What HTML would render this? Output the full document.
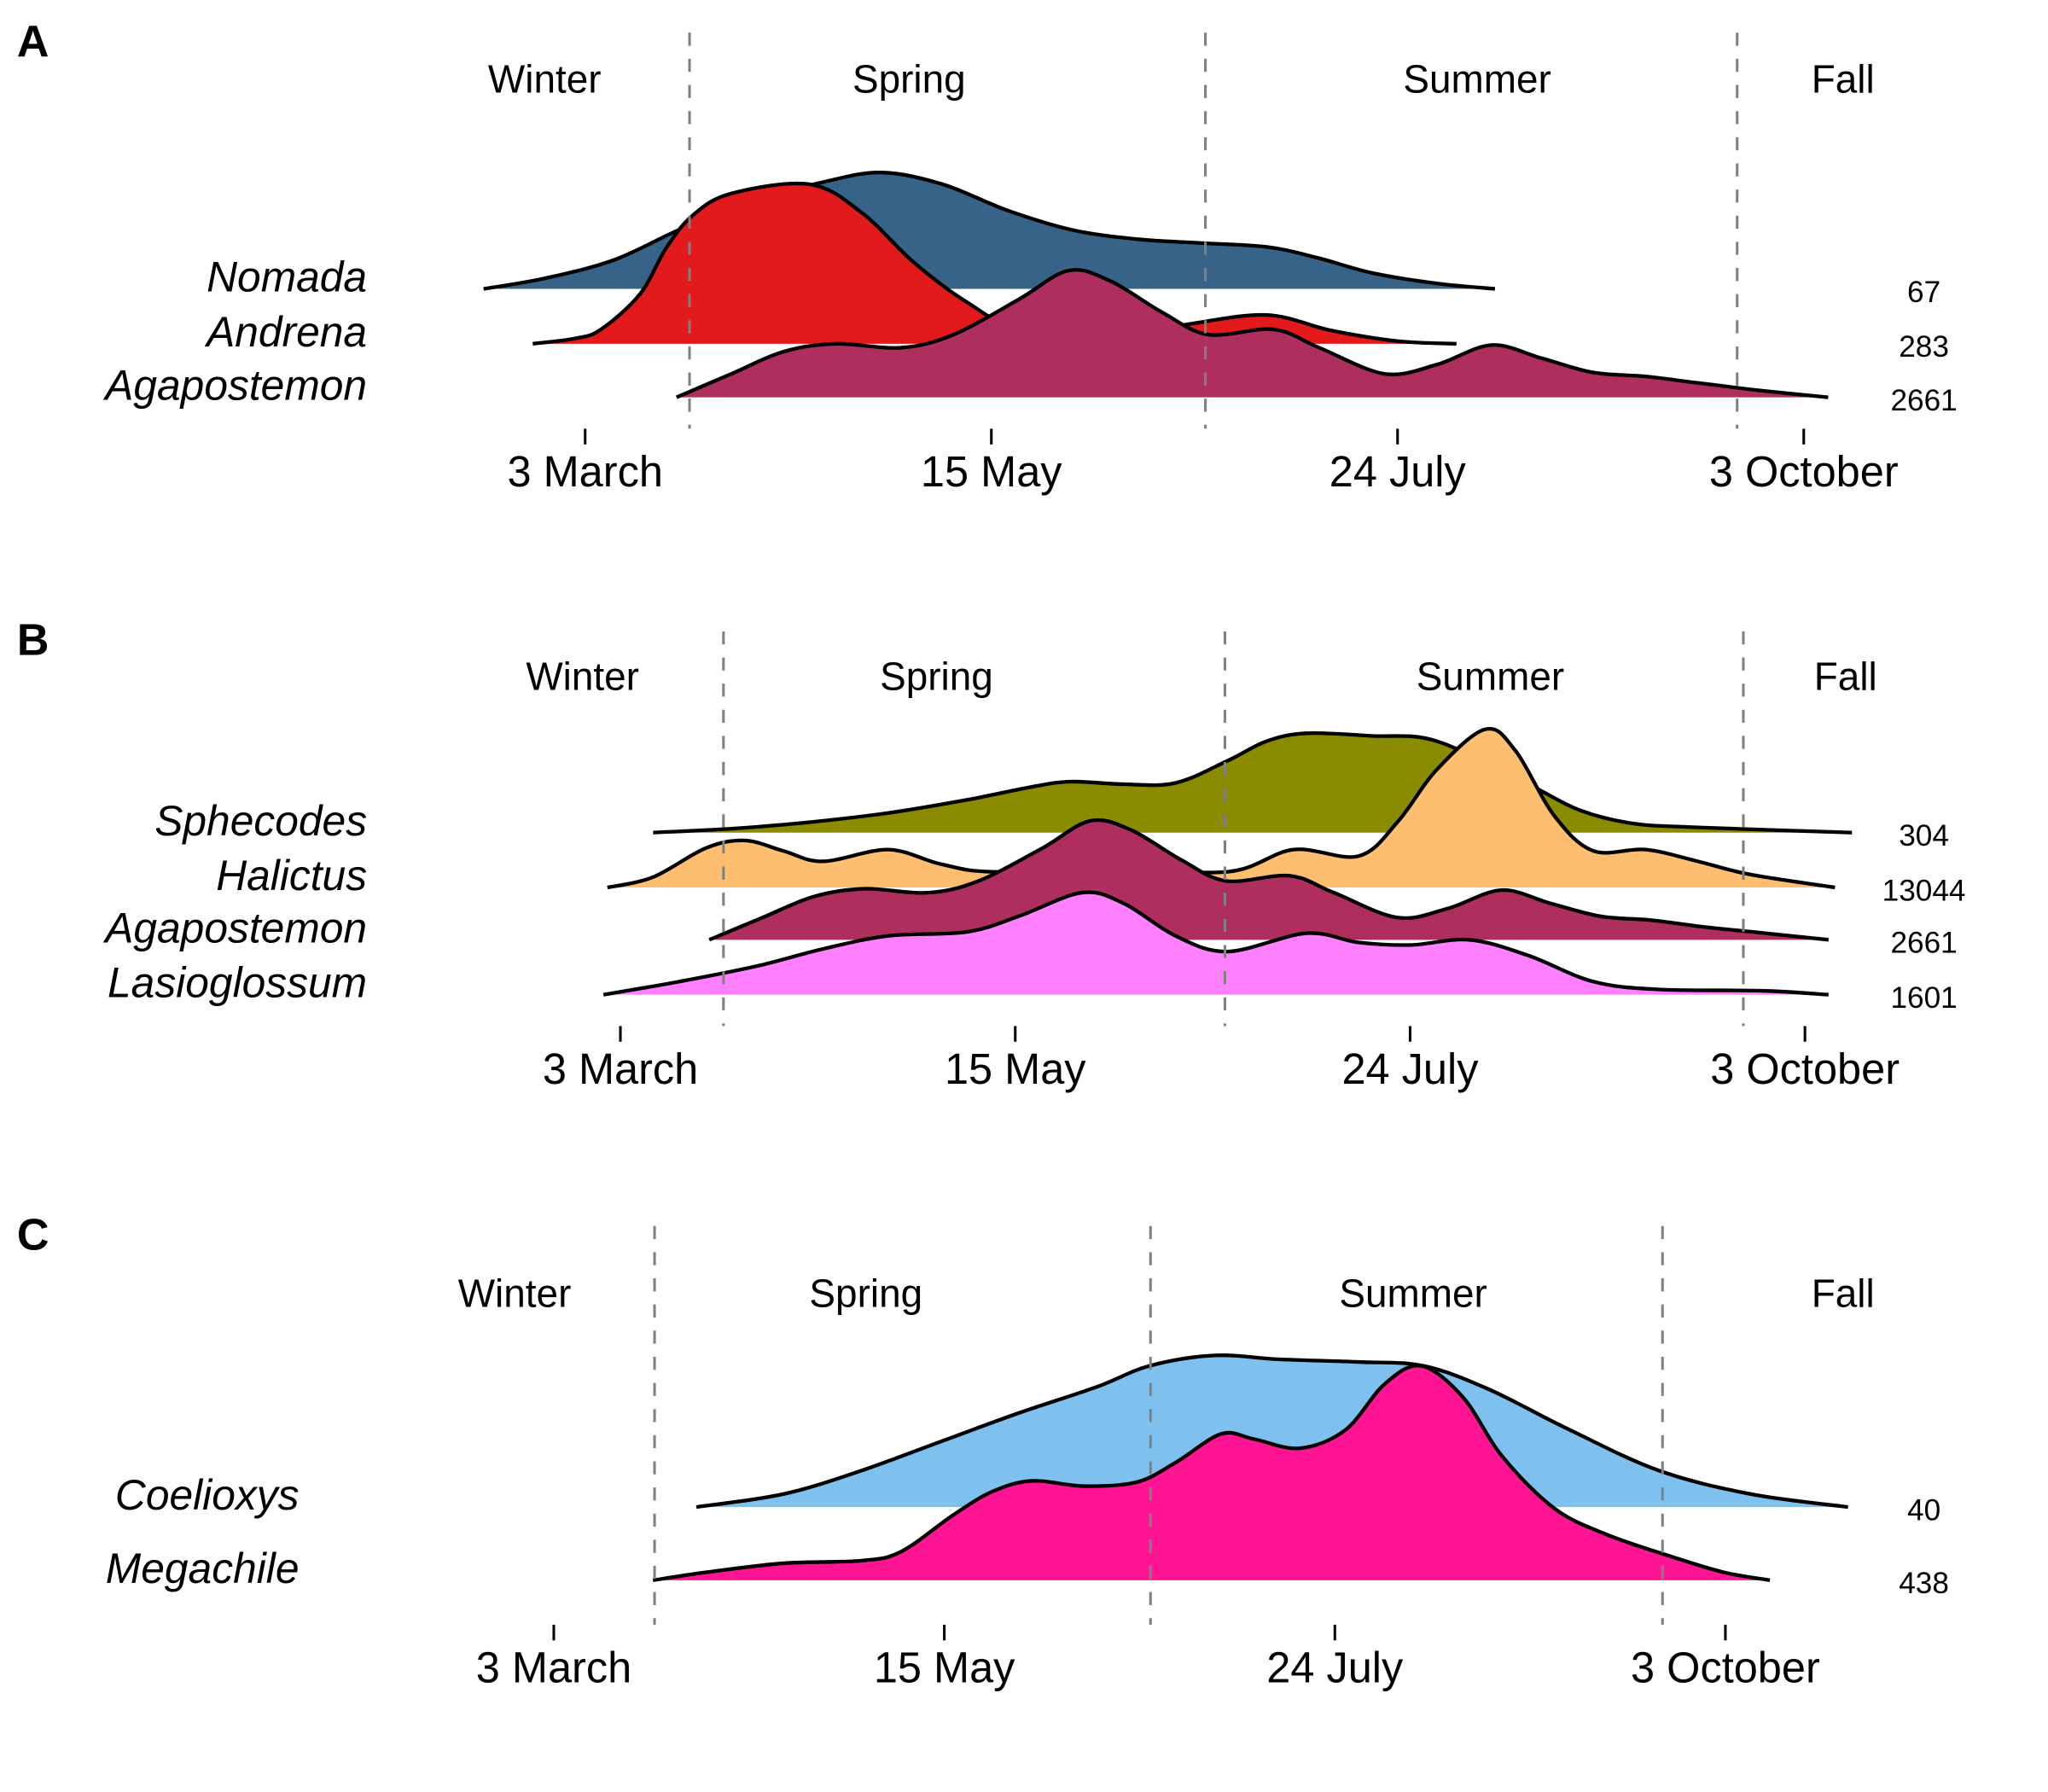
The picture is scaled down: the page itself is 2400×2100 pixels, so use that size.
<!DOCTYPE html>
<html><head><meta charset="utf-8"><style>
html,body{margin:0;padding:0;background:#fff;}
svg{display:block;}
text{font-family:"Liberation Sans",Arial,sans-serif;fill:#000;}
</style></head><body>
<svg id="chart" width="2400" height="2100" viewBox="0 0 1568 1371" preserveAspectRatio="none" xmlns="http://www.w3.org/2000/svg"></svg>
<script>
// ---- data ----
const tickWeeks = [10, 20, 30, 40];
const tickLabels = ["3 March", "15 May", "24 July", "3 October"];
const seasonNames = ["Winter", "Spring", "Summer", "Fall"];

const nomadaWeeks = [7.5,9,10.7,12.3,13.9,15.9,17.3,18.8,20.4,22,23.6,25.2,26.8,28,29.4,31,32.4];
const nomadaVals  = [0,8,22,45,65,82,89,80,60,45,38,35,32,24,12,4,0];
const andrenaWeeks = [8.71,9.74,10.39,11.35,11.99,12.64,13.6,15.53,16.82,18.1,19.39,20.68,23.25,24.86,26.78,28.39,30,31.45];
const andrenaVals  = [0,4,11,38,73,98,115,122,100,62,32,12,6,15,22,10,2,0];
const agapWeeks = [12.25,13.6,14.89,16.17,17.78,19.07,20.68,21.9,22.93,24.21,25.34,26.95,28.07,29.68,30.96,32.31,33.54,34.82,36.11,37.4,39,40.6];
const agapValsA = [0,18,35,41,38,48,75,97,89,65,48,52,38,18,25,40,30,19,16,11,5,0];
const agapValsB = [0,17,33,39,36,45,70,91,84,61,45,49,36,17,24,38,28,18,15,10,5,0];

const sphecodesWeeks = [10.83,12.81,14.8,16.78,18.77,20.42,21.41,22.74,24.06,25.38,26.37,27.37,29.02,30.67,32.99,34.31,35.64,37.29,41.19];
const sphecodesVals  = [0,3,8,15,25,35,39,37,38,55,70,76,74,70,37,17,7,4,0];
const halictusWeeks = [9.67,10.83,12.15,13.14,14.13,15.13,16.78,18.1,19.43,22.4,25.38,27.04,28.69,29.68,30.67,31.9,32.66,33.65,34.64,35.97,37.29,38.61,40.76];
const halictusVals  = [0,8,30,36,28,20,29,18,12,15,12,29,24,50,90,121,105,55,28,29,20,10,0];
const lasioWeeks = [9.57,11.49,13.47,15.13,16.78,18.77,20.09,21.68,22.74,24.06,25.38,27.37,28.69,30.01,31.5,32.99,34.64,36.3,38.94,40.6];
const lasioVals  = [0,10,22,35,45,48,60,78,70,45,33,47,40,38,42,30,10,4,3,0];

const coelioxysWeeks = [13.65,15.89,17.89,19.9,21.91,23.91,25.25,26.92,28.6,30.6,32.27,33.95,35.95,38.29,40.64,43.14];
const coelioxysVals  = [0,10,28,50,72,92,108,116,113,111,108,90,60,28,10,0];
const megachileWeeks = [12.54,13.88,15.89,17.89,18.9,20.23,21.24,22.24,23.58,24.92,25.92,27.09,27.93,29.1,30.27,31.27,32.21,33.28,34.28,35.62,36.96,38.63,39.97,41.14];
const megachileVals  = [0,6,13,15,22,50,68,76,72,75,90,112,108,101,115,150,164,140,95,55,35,18,6,0];

const panels = [
 {letter:"A", ox:448, sp:31.1, top:25, axisY:328, seasons:[12.57,25.27,38.36], seasonX:[417,696,1131,1411], seasonY:71, labelX:281,
  series:[
   {name:"Nomada", w:nomadaWeeks, v:nomadaVals, base:221, col:"#376389", n:"67"},
   {name:"Andrena", w:andrenaWeeks, v:andrenaVals, base:263, col:"#E31A1C", n:"283"},
   {name:"Agapostemon", w:agapWeeks, v:agapValsA, base:304, col:"#AE2F5E", n:"2661"}]},
 {letter:"B", ox:475, sp:30.23, top:483, axisY:785, seasons:[12.61,25.31,38.44], seasonX:[446,717,1141,1413], seasonY:528, labelX:281,
  series:[
   {name:"Sphecodes", w:sphecodesWeeks, v:sphecodesVals, base:637, col:"#8B8B00", n:"304"},
   {name:"Halictus", w:halictusWeeks, v:halictusVals, base:679, col:"#FDBF6F", n:"13044"},
   {name:"Agapostemon", w:agapWeeks, v:agapValsB, base:719, col:"#AE2F5E", n:"2661"},
   {name:"Lasioglossum", w:lasioWeeks, v:lasioVals, base:761, col:"#FF80FF", n:"1601"}]},
 {letter:"C", ox:424, sp:29.9, top:938, axisY:1243, seasons:[12.58,25.28,38.39], seasonX:[394,663,1082,1411], seasonY:1000, labelX:229,
  series:[
   {name:"Coelioxys", w:coelioxysWeeks, v:coelioxysVals, base:1153, col:"#7EC0EE", n:"40"},
   {name:"Megachile", w:megachileWeeks, v:megachileVals, base:1209, col:"#FF1493", n:"438"}]}
];

const NS = "http://www.w3.org/2000/svg";
const svg = document.getElementById("chart");
function mk(tag, attrs, parent){ const e=document.createElementNS(NS,tag); for(const k in attrs) e.setAttribute(k,attrs[k]); (parent||svg).appendChild(e); return e; }
function smooth(pts){
  let d="M"+pts[0][0]+","+pts[0][1];
  for(let i=0;i<pts.length-1;i++){
    const p0=pts[Math.max(0,i-1)],p1=pts[i],p2=pts[i+1],p3=pts[Math.min(pts.length-1,i+2)];
    const c1=[p1[0]+(p2[0]-p0[0])/6,p1[1]+(p2[1]-p0[1])/6];
    const c2=[p2[0]-(p3[0]-p1[0])/6,p2[1]-(p3[1]-p1[1])/6];
    d+=" C"+c1[0].toFixed(1)+","+c1[1].toFixed(1)+" "+c2[0].toFixed(1)+","+c2[1].toFixed(1)+" "+p2[0].toFixed(1)+","+p2[1].toFixed(1);
  }
  return d;
}

panels.forEach(P=>{
  const x = w => P.ox + (w-10)*P.sp;
  const g = mk("g",{});
  
  
  const lt = mk("text",{x:13,y:P.top+18,"font-size":34,"font-weight":"bold"},g);
  lt.textContent=P.letter;
  
  
  P.series.forEach(s=>{
    const pts = s.w.map((w,i)=>[x(w), s.base - s.v[i]]);
    const line = smooth(pts);
    const fill = mk("path",{d: line+" L"+pts[pts.length-1][0]+","+s.base+" L"+pts[0][0]+","+s.base+" Z", fill:s.col, stroke:"none"},g);
    
    
    const ln = mk("path",{d:line, fill:"none", stroke:"#000","stroke-width":2.8,"stroke-linejoin":"round"},g);
    
    
    const lab = mk("text",{x:P.labelX,y:s.base+2,"font-size":32.5,"font-style":"italic","text-anchor":"end"},g);
    lab.textContent=s.name;
    
    
    const nt = mk("text",{x:1473,y:s.base+10,"font-size":23,"text-anchor":"middle"},g);
    nt.textContent=s.n;
    
    
  });
  P.seasons.forEach(w=>{
    const l = mk("line",{x1:x(w),x2:x(w),y1:P.top,y2:P.axisY,stroke:"#808080","stroke-width":2,"stroke-dasharray":"10,10"},g);
    
    
  });
  seasonNames.forEach((n,i)=>{
    const t = mk("text",{x:P.seasonX[i],y:P.seasonY,"font-size":30,"text-anchor":"middle"},g);
    t.textContent=n;
    
    
  });
  tickWeeks.forEach((w,i)=>{
    const tk = mk("line",{x1:x(w),x2:x(w),y1:P.axisY,y2:P.axisY+12,stroke:"#000","stroke-width":2},g);
    
    
    const tl = mk("text",{x:x(w),y:P.axisY+44,"font-size":33,"text-anchor":"middle"},g);
    tl.textContent=tickLabels[i];
    
    
  });
});
</script>
</body></html>
